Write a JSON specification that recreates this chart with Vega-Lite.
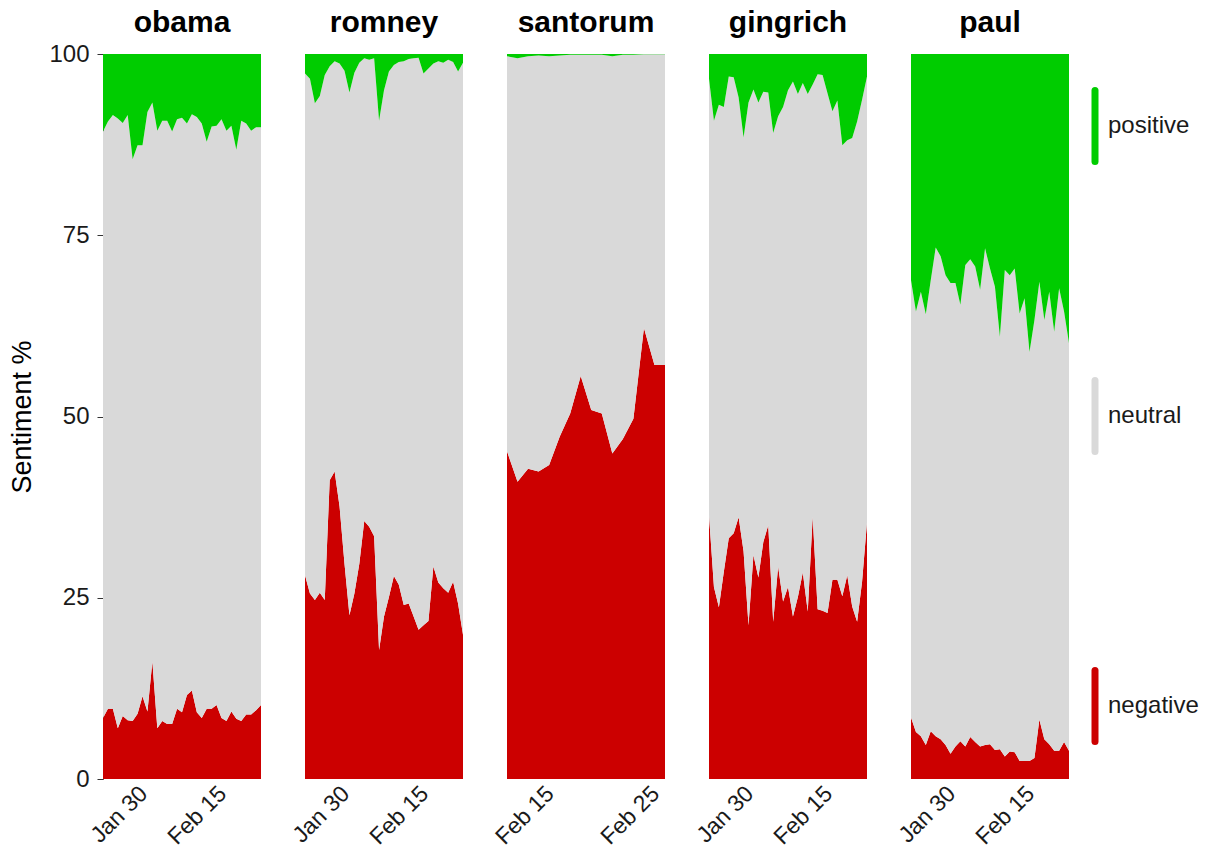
{
  "$schema": "https://vega.github.io/schema/vega-lite/v6.json",
  "background": "white",
  "padding": {"left": 8, "top": 7, "right": 5, "bottom": 0},
  "bounds": "flush",
  "spacing": 44,
  "config": {
    "font": "Liberation Sans",
    "view": {"stroke": null},
    "axis": {"grid": false, "labelFont": "Liberation Sans", "titleFont": "Liberation Sans"},
    "axisX": {"format": "%b %d", "labelAngle": -45, "labelAlign": "right", "labelBaseline": "top", "labelFontSize": 23, "labelColor": "#1a1a1a", "domain": false, "ticks": false, "tickSize": 0, "labelPadding": 3, "labelOffset": -7, "title": null, "labelFlush": false, "labelOverlap": false, "labelBound": false},
    "title": {"font": "Liberation Sans", "fontSize": 30, "fontWeight": "bold", "color": "black", "offset": 16, "anchor": "middle"},
    "legend": {"labelFont": "Liberation Sans"}
  },
  "datasets": {
    "obama": [
      {"date": "2012-01-22", "negative": 8.4, "neutral": 80.9, "positive": 10.7},
      {"date": "2012-01-23", "negative": 9.7, "neutral": 81.0, "positive": 9.3},
      {"date": "2012-01-24", "negative": 9.7, "neutral": 81.9, "positive": 8.4},
      {"date": "2012-01-25", "negative": 7.0, "neutral": 84.1, "positive": 8.9},
      {"date": "2012-01-26", "negative": 8.7, "neutral": 81.8, "positive": 9.5},
      {"date": "2012-01-27", "negative": 8.1, "neutral": 83.5, "positive": 8.4},
      {"date": "2012-01-28", "negative": 8.0, "neutral": 77.5, "positive": 14.5},
      {"date": "2012-01-29", "negative": 9.0, "neutral": 78.4, "positive": 12.6},
      {"date": "2012-01-30", "negative": 11.4, "neutral": 76.0, "positive": 12.6},
      {"date": "2012-01-31", "negative": 9.3, "neutral": 82.7, "positive": 8.0},
      {"date": "2012-02-01", "negative": 16.2, "neutral": 77.1, "positive": 6.7},
      {"date": "2012-02-02", "negative": 7.0, "neutral": 82.4, "positive": 10.6},
      {"date": "2012-02-03", "negative": 8.0, "neutral": 82.8, "positive": 9.2},
      {"date": "2012-02-04", "negative": 7.6, "neutral": 83.2, "positive": 9.2},
      {"date": "2012-02-05", "negative": 7.6, "neutral": 81.7, "positive": 10.7},
      {"date": "2012-02-06", "negative": 9.7, "neutral": 81.3, "positive": 9.0},
      {"date": "2012-02-07", "negative": 9.2, "neutral": 82.0, "positive": 8.8},
      {"date": "2012-02-08", "negative": 11.6, "neutral": 78.8, "positive": 9.6},
      {"date": "2012-02-09", "negative": 12.2, "neutral": 79.5, "positive": 8.3},
      {"date": "2012-02-10", "negative": 9.2, "neutral": 82.1, "positive": 8.7},
      {"date": "2012-02-11", "negative": 8.4, "neutral": 82.0, "positive": 9.6},
      {"date": "2012-02-12", "negative": 9.7, "neutral": 78.2, "positive": 12.1},
      {"date": "2012-02-13", "negative": 9.7, "neutral": 80.3, "positive": 10.0},
      {"date": "2012-02-14", "negative": 10.2, "neutral": 79.9, "positive": 9.9},
      {"date": "2012-02-15", "negative": 8.4, "neutral": 82.6, "positive": 9.0},
      {"date": "2012-02-16", "negative": 8.0, "neutral": 81.4, "positive": 10.6},
      {"date": "2012-02-17", "negative": 9.3, "neutral": 80.8, "positive": 9.9},
      {"date": "2012-02-18", "negative": 8.3, "neutral": 78.5, "positive": 13.2},
      {"date": "2012-02-19", "negative": 8.0, "neutral": 82.8, "positive": 9.2},
      {"date": "2012-02-20", "negative": 8.9, "neutral": 81.5, "positive": 9.6},
      {"date": "2012-02-21", "negative": 8.9, "neutral": 80.5, "positive": 10.6},
      {"date": "2012-02-22", "negative": 9.5, "neutral": 80.4, "positive": 10.1},
      {"date": "2012-02-23", "negative": 10.2, "neutral": 79.7, "positive": 10.1}
    ],
    "romney": [
      {"date": "2012-01-22", "negative": 28.1, "neutral": 69.2, "positive": 2.7},
      {"date": "2012-01-23", "negative": 25.6, "neutral": 71.0, "positive": 3.4},
      {"date": "2012-01-24", "negative": 24.7, "neutral": 68.5, "positive": 6.8},
      {"date": "2012-01-25", "negative": 25.7, "neutral": 68.5, "positive": 5.8},
      {"date": "2012-01-26", "negative": 24.7, "neutral": 72.4, "positive": 2.9},
      {"date": "2012-01-27", "negative": 41.2, "neutral": 57.1, "positive": 1.7},
      {"date": "2012-01-28", "negative": 42.4, "neutral": 56.6, "positive": 1.0},
      {"date": "2012-01-29", "negative": 37.6, "neutral": 61.1, "positive": 1.3},
      {"date": "2012-01-30", "negative": 29.7, "neutral": 68.0, "positive": 2.3},
      {"date": "2012-01-31", "negative": 22.6, "neutral": 72.1, "positive": 5.3},
      {"date": "2012-02-01", "negative": 25.6, "neutral": 71.8, "positive": 2.6},
      {"date": "2012-02-02", "negative": 29.7, "neutral": 69.1, "positive": 1.2},
      {"date": "2012-02-03", "negative": 35.6, "neutral": 63.8, "positive": 0.6},
      {"date": "2012-02-04", "negative": 34.8, "neutral": 64.4, "positive": 0.8},
      {"date": "2012-02-05", "negative": 33.5, "neutral": 65.9, "positive": 0.6},
      {"date": "2012-02-06", "negative": 17.8, "neutral": 73.0, "positive": 9.2},
      {"date": "2012-02-07", "negative": 22.4, "neutral": 72.6, "positive": 5.0},
      {"date": "2012-02-08", "negative": 25.1, "neutral": 72.5, "positive": 2.4},
      {"date": "2012-02-09", "negative": 28.0, "neutral": 70.5, "positive": 1.5},
      {"date": "2012-02-10", "negative": 26.8, "neutral": 72.1, "positive": 1.1},
      {"date": "2012-02-11", "negative": 24.0, "neutral": 75.0, "positive": 1.0},
      {"date": "2012-02-12", "negative": 24.2, "neutral": 75.1, "positive": 0.7},
      {"date": "2012-02-13", "negative": 22.4, "neutral": 77.0, "positive": 0.6},
      {"date": "2012-02-14", "negative": 20.6, "neutral": 78.9, "positive": 0.5},
      {"date": "2012-02-15", "negative": 21.2, "neutral": 76.1, "positive": 2.7},
      {"date": "2012-02-16", "negative": 21.8, "neutral": 76.2, "positive": 2.0},
      {"date": "2012-02-17", "negative": 29.3, "neutral": 69.4, "positive": 1.3},
      {"date": "2012-02-18", "negative": 27.1, "neutral": 71.9, "positive": 1.0},
      {"date": "2012-02-19", "negative": 26.3, "neutral": 72.5, "positive": 1.2},
      {"date": "2012-02-20", "negative": 25.7, "neutral": 73.5, "positive": 0.8},
      {"date": "2012-02-21", "negative": 27.2, "neutral": 71.7, "positive": 1.1},
      {"date": "2012-02-22", "negative": 24.2, "neutral": 73.4, "positive": 2.4},
      {"date": "2012-02-23", "negative": 19.9, "neutral": 78.9, "positive": 1.2}
    ],
    "santorum": [
      {"date": "2012-02-11", "negative": 45.2, "neutral": 54.5, "positive": 0.3},
      {"date": "2012-02-12", "negative": 41.0, "neutral": 58.4, "positive": 0.6},
      {"date": "2012-02-13", "negative": 42.8, "neutral": 56.9, "positive": 0.3},
      {"date": "2012-02-14", "negative": 42.4, "neutral": 57.4, "positive": 0.2},
      {"date": "2012-02-15", "negative": 43.3, "neutral": 56.4, "positive": 0.3},
      {"date": "2012-02-16", "negative": 47.2, "neutral": 52.6, "positive": 0.2},
      {"date": "2012-02-17", "negative": 50.4, "neutral": 49.5, "positive": 0.1},
      {"date": "2012-02-18", "negative": 55.6, "neutral": 44.3, "positive": 0.1},
      {"date": "2012-02-19", "negative": 50.9, "neutral": 49.0, "positive": 0.1},
      {"date": "2012-02-20", "negative": 50.4, "neutral": 49.5, "positive": 0.1},
      {"date": "2012-02-21", "negative": 44.9, "neutral": 54.8, "positive": 0.3},
      {"date": "2012-02-22", "negative": 46.9, "neutral": 53.0, "positive": 0.1},
      {"date": "2012-02-23", "negative": 49.7, "neutral": 50.2, "positive": 0.1},
      {"date": "2012-02-24", "negative": 62.2, "neutral": 37.75, "positive": 0.05},
      {"date": "2012-02-25", "negative": 57.1, "neutral": 42.85, "positive": 0.05},
      {"date": "2012-02-26", "negative": 57.1, "neutral": 42.85, "positive": 0.05}
    ],
    "gingrich": [
      {"date": "2012-01-22", "negative": 36.4, "neutral": 60.2, "positive": 3.4},
      {"date": "2012-01-23", "negative": 26.5, "neutral": 64.3, "positive": 9.2},
      {"date": "2012-01-24", "negative": 23.7, "neutral": 69.3, "positive": 7.0},
      {"date": "2012-01-25", "negative": 28.6, "neutral": 64.1, "positive": 7.3},
      {"date": "2012-01-26", "negative": 33.2, "neutral": 63.7, "positive": 3.1},
      {"date": "2012-01-27", "negative": 33.9, "neutral": 62.9, "positive": 3.2},
      {"date": "2012-01-28", "negative": 36.1, "neutral": 57.9, "positive": 6.0},
      {"date": "2012-01-29", "negative": 31.4, "neutral": 57.1, "positive": 11.5},
      {"date": "2012-01-30", "negative": 21.2, "neutral": 72.1, "positive": 6.7},
      {"date": "2012-01-31", "negative": 30.9, "neutral": 64.2, "positive": 4.9},
      {"date": "2012-02-01", "negative": 27.8, "neutral": 65.5, "positive": 6.7},
      {"date": "2012-02-02", "negative": 32.7, "neutral": 62.1, "positive": 5.2},
      {"date": "2012-02-03", "negative": 35.0, "neutral": 59.7, "positive": 5.3},
      {"date": "2012-02-04", "negative": 21.7, "neutral": 67.4, "positive": 10.9},
      {"date": "2012-02-05", "negative": 29.3, "neutral": 62.1, "positive": 8.6},
      {"date": "2012-02-06", "negative": 24.5, "neutral": 68.2, "positive": 7.3},
      {"date": "2012-02-07", "negative": 26.5, "neutral": 68.5, "positive": 5.0},
      {"date": "2012-02-08", "negative": 22.4, "neutral": 73.8, "positive": 3.8},
      {"date": "2012-02-09", "negative": 25.1, "neutral": 69.4, "positive": 5.5},
      {"date": "2012-02-10", "negative": 28.5, "neutral": 67.5, "positive": 4.0},
      {"date": "2012-02-11", "negative": 23.1, "neutral": 71.4, "positive": 5.5},
      {"date": "2012-02-12", "negative": 36.2, "neutral": 59.6, "positive": 4.2},
      {"date": "2012-02-13", "negative": 23.4, "neutral": 73.8, "positive": 2.8},
      {"date": "2012-02-14", "negative": 23.2, "neutral": 73.9, "positive": 2.9},
      {"date": "2012-02-15", "negative": 22.9, "neutral": 71.7, "positive": 5.4},
      {"date": "2012-02-16", "negative": 27.5, "neutral": 64.6, "positive": 7.9},
      {"date": "2012-02-17", "negative": 27.5, "neutral": 66.1, "positive": 6.4},
      {"date": "2012-02-18", "negative": 25.2, "neutral": 62.2, "positive": 12.6},
      {"date": "2012-02-19", "negative": 28.1, "neutral": 60.0, "positive": 11.9},
      {"date": "2012-02-20", "negative": 23.8, "neutral": 64.6, "positive": 11.6},
      {"date": "2012-02-21", "negative": 21.7, "neutral": 69.0, "positive": 9.3},
      {"date": "2012-02-22", "negative": 27.2, "neutral": 66.5, "positive": 6.3},
      {"date": "2012-02-23", "negative": 35.4, "neutral": 61.5, "positive": 3.1}
    ],
    "paul": [
      {"date": "2012-01-22", "negative": 8.5, "neutral": 60.3, "positive": 31.2},
      {"date": "2012-01-23", "negative": 6.5, "neutral": 58.0, "positive": 35.5},
      {"date": "2012-01-24", "negative": 5.9, "neutral": 61.3, "positive": 32.8},
      {"date": "2012-01-25", "negative": 4.7, "neutral": 59.4, "positive": 35.9},
      {"date": "2012-01-26", "negative": 6.6, "neutral": 62.2, "positive": 31.2},
      {"date": "2012-01-27", "negative": 5.9, "neutral": 67.4, "positive": 26.7},
      {"date": "2012-01-28", "negative": 5.5, "neutral": 66.6, "positive": 27.9},
      {"date": "2012-01-29", "negative": 4.7, "neutral": 64.8, "positive": 30.5},
      {"date": "2012-01-30", "negative": 3.5, "neutral": 64.9, "positive": 31.6},
      {"date": "2012-01-31", "negative": 4.5, "neutral": 63.9, "positive": 31.6},
      {"date": "2012-02-01", "negative": 5.2, "neutral": 60.2, "positive": 34.6},
      {"date": "2012-02-02", "negative": 4.5, "neutral": 66.4, "positive": 29.1},
      {"date": "2012-02-03", "negative": 5.8, "neutral": 65.9, "positive": 28.3},
      {"date": "2012-02-04", "negative": 5.1, "neutral": 65.6, "positive": 29.3},
      {"date": "2012-02-05", "negative": 4.5, "neutral": 63.0, "positive": 32.5},
      {"date": "2012-02-06", "negative": 4.7, "neutral": 68.5, "positive": 26.8},
      {"date": "2012-02-07", "negative": 4.8, "neutral": 65.6, "positive": 29.6},
      {"date": "2012-02-08", "negative": 4.0, "neutral": 63.9, "positive": 32.1},
      {"date": "2012-02-09", "negative": 4.1, "neutral": 56.9, "positive": 39.0},
      {"date": "2012-02-10", "negative": 3.1, "neutral": 67.1, "positive": 29.8},
      {"date": "2012-02-11", "negative": 3.8, "neutral": 65.7, "positive": 30.5},
      {"date": "2012-02-12", "negative": 3.7, "neutral": 66.7, "positive": 29.6},
      {"date": "2012-02-13", "negative": 2.5, "neutral": 61.7, "positive": 35.8},
      {"date": "2012-02-14", "negative": 2.5, "neutral": 63.8, "positive": 33.7},
      {"date": "2012-02-15", "negative": 2.5, "neutral": 56.4, "positive": 41.1},
      {"date": "2012-02-16", "negative": 2.9, "neutral": 60.4, "positive": 36.7},
      {"date": "2012-02-17", "negative": 8.2, "neutral": 60.4, "positive": 31.4},
      {"date": "2012-02-18", "negative": 5.5, "neutral": 57.8, "positive": 36.7},
      {"date": "2012-02-19", "negative": 4.8, "neutral": 62.4, "positive": 32.8},
      {"date": "2012-02-20", "negative": 3.9, "neutral": 57.8, "positive": 38.3},
      {"date": "2012-02-21", "negative": 3.9, "neutral": 63.8, "positive": 32.3},
      {"date": "2012-02-22", "negative": 5.1, "neutral": 59.4, "positive": 35.5},
      {"date": "2012-02-23", "negative": 3.9, "neutral": 56.2, "positive": 39.9}
    ]
  },
  "hconcat": [
    {
      "data": {"name": "obama"},
      "title": {"text": "obama", "dy": 12},
      "width": 158, "height": 725,
      "transform": [{"fold": ["negative", "neutral", "positive"], "as": ["sentiment", "pct"]}],
      "mark": {"type": "area", "interpolate": "linear"},
      "encoding": {
        "x": {"field": "date", "type": "temporal", "scale": {"type": "utc", "nice": false},
              "axis": {"values": [{"year": 2012, "month": 1, "date": 30, "utc": true}, {"year": 2012, "month": 2, "date": 15, "utc": true}]}},
        "y": {"field": "pct", "type": "quantitative", "stack": "zero", "scale": {"domain": [0, 100], "nice": false},
              "axis": {"values": [0, 25, 50, 75, 100], "title": "Sentiment %", "titleFontSize": 27, "titleFontWeight": "normal", "titleColor": "black", "titlePadding": 12, "labelFontSize": 24, "labelColor": "#1a1a1a", "tickSize": 6, "labelPadding": 8, "domainColor": "#333333", "tickColor": "#333333"}},
        "color": {"field": "sentiment", "type": "nominal",
                  "scale": {"domain": ["positive", "neutral", "negative"], "range": ["#00cc00", "#d9d9d9", "#cc0000"]},
                  "legend": {"orient": "none", "legendX": 953, "legendY": 33, "title": null, "padding": 0,
                             "symbolType": "M0,-1V1", "symbolSize": 5041, "symbolStrokeWidth": 7,
                             "labelFontSize": 24, "labelColor": "#1a1a1a", "labelOffset": -26, "rowPadding": 190,
                             "encode": {"symbols": {"update": {"stroke": {"scale": "color", "field": "value"}, "strokeCap": {"value": "round"}, "fill": {"value": "transparent"}, "opacity": {"value": 1}}}}}},
        "order": {"field": "sentiment", "sort": "ascending"}
      }
    },
    {
      "data": {"name": "romney"},
      "title": "romney",
      "width": 158, "height": 725,
      "transform": [{"fold": ["negative", "neutral", "positive"], "as": ["sentiment", "pct"]}],
      "mark": {"type": "area", "interpolate": "linear"},
      "encoding": {
        "x": {"field": "date", "type": "temporal", "scale": {"type": "utc", "nice": false},
              "axis": {"values": [{"year": 2012, "month": 1, "date": 30, "utc": true}, {"year": 2012, "month": 2, "date": 15, "utc": true}]}},
        "y": {"field": "pct", "type": "quantitative", "stack": "zero", "scale": {"domain": [0, 100], "nice": false}, "axis": null},
        "color": {"field": "sentiment", "type": "nominal"},
        "order": {"field": "sentiment", "sort": "ascending"}
      }
    },
    {
      "data": {"name": "santorum"},
      "title": "santorum",
      "width": 158, "height": 725,
      "transform": [{"fold": ["negative", "neutral", "positive"], "as": ["sentiment", "pct"]}],
      "mark": {"type": "area", "interpolate": "linear"},
      "encoding": {
        "x": {"field": "date", "type": "temporal", "scale": {"type": "utc", "nice": false},
              "axis": {"values": [{"year": 2012, "month": 2, "date": 15, "utc": true}, {"year": 2012, "month": 2, "date": 25, "utc": true}]}},
        "y": {"field": "pct", "type": "quantitative", "stack": "zero", "scale": {"domain": [0, 100], "nice": false}, "axis": null},
        "color": {"field": "sentiment", "type": "nominal"},
        "order": {"field": "sentiment", "sort": "ascending"}
      }
    },
    {
      "data": {"name": "gingrich"},
      "title": "gingrich",
      "width": 158, "height": 725,
      "transform": [{"fold": ["negative", "neutral", "positive"], "as": ["sentiment", "pct"]}],
      "mark": {"type": "area", "interpolate": "linear"},
      "encoding": {
        "x": {"field": "date", "type": "temporal", "scale": {"type": "utc", "nice": false},
              "axis": {"values": [{"year": 2012, "month": 1, "date": 30, "utc": true}, {"year": 2012, "month": 2, "date": 15, "utc": true}]}},
        "y": {"field": "pct", "type": "quantitative", "stack": "zero", "scale": {"domain": [0, 100], "nice": false}, "axis": null},
        "color": {"field": "sentiment", "type": "nominal"},
        "order": {"field": "sentiment", "sort": "ascending"}
      }
    },
    {
      "data": {"name": "paul"},
      "title": "paul",
      "width": 158, "height": 725,
      "transform": [{"fold": ["negative", "neutral", "positive"], "as": ["sentiment", "pct"]}],
      "mark": {"type": "area", "interpolate": "linear"},
      "encoding": {
        "x": {"field": "date", "type": "temporal", "scale": {"type": "utc", "nice": false},
              "axis": {"values": [{"year": 2012, "month": 1, "date": 30, "utc": true}, {"year": 2012, "month": 2, "date": 15, "utc": true}]}},
        "y": {"field": "pct", "type": "quantitative", "stack": "zero", "scale": {"domain": [0, 100], "nice": false}, "axis": null},
        "color": {"field": "sentiment", "type": "nominal"},
        "order": {"field": "sentiment", "sort": "ascending"}
      }
    }
  ]
}
